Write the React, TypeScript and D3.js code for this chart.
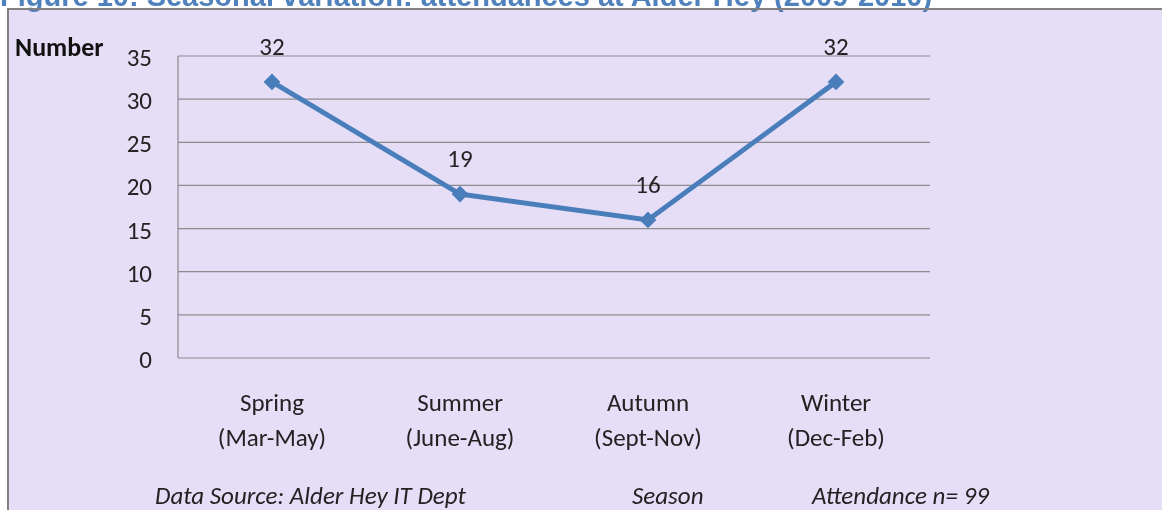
import { useEffect, useRef } from 'react'
import * as d3 from 'd3'

const seasons = ['Spring', 'Summer', 'Autumn', 'Winter']
const months = ['(Mar-May)', '(June-Aug)', '(Sept-Nov)', '(Dec-Feb)']
const attendances = [32, 19, 16, 32]
const yTicks = [0, 5, 10, 15, 20, 25, 30, 35]

const W = 1162
const H = 510
const font = 'Carlito, "Open Sans", "Noto Sans", sans-serif'

export default function App() {
  const svgRef = useRef<SVGSVGElement>(null)

  useEffect(() => {
    const svg = d3.select(svgRef.current)
    svg.selectAll('*').remove()

    const margin = { top: 56, left: 178, right: 232, bottom: 152 }
    const w = W - margin.left - margin.right
    const h = H - margin.top - margin.bottom

    // background + frame
    svg.append('rect').attr('x', 0).attr('y', 0).attr('width', W).attr('height', H).attr('fill', '#fff')
    svg.append('rect').attr('x', 8).attr('y', 9).attr('width', W).attr('height', H).attr('fill', '#e6ddf7')

    // title (cut off by the page top)
    svg.append('text')
      .attr('x', 0)
      .attr('y', 6)
      .attr('font-family', 'Arial, "Liberation Sans", sans-serif')
      .attr('font-weight', 'bold')
      .attr('font-size', 29)
      .attr('fill', '#4f81bd')
      .text('Figure 10: Seasonal variation: attendances at Alder Hey (2009-2010)')

    svg.append('line').attr('x1', 7).attr('x2', W).attr('y1', 9).attr('y2', 9).attr('stroke', '#808080').attr('stroke-width', 2)
    svg.append('line').attr('x1', 8).attr('x2', 8).attr('y1', 9).attr('y2', H).attr('stroke', '#808080').attr('stroke-width', 2)

    const g = svg.append('g').attr('transform', `translate(${margin.left},${margin.top})`)

    const x = d3.scaleBand().domain(seasons).range([0, w])
    const y = d3.scaleLinear().domain([0, 35]).range([h, 0])

    // gridlines
    g.selectAll('.grid')
      .data(yTicks)
      .join('line')
      .attr('x1', 0)
      .attr('x2', w)
      .attr('y1', (d) => y(d))
      .attr('y2', (d) => y(d))
      .attr('stroke', '#8c8c8c')
      .attr('stroke-width', 1.2)
    g.append('line').attr('x1', 0).attr('x2', 0).attr('y1', 0).attr('y2', h).attr('stroke', '#8c8c8c').attr('stroke-width', 1.2)

    // y tick labels
    g.selectAll('.ytick')
      .data(yTicks)
      .join('text')
      .attr('x', -26)
      .attr('y', (d) => y(d) + 10)
      .attr('text-anchor', 'end')
      .attr('font-family', font)
      .attr('font-size', 25)
      .attr('fill', '#222')
      .text((d) => d)

    svg.append('text')
      .attr('x', 15)
      .attr('y', 56)
      .attr('font-family', font)
      .attr('font-weight', 'bold')
      .attr('font-size', 26)
      .attr('fill', '#111')
      .text('Number')

    // category labels
    const cx = (d: string) => (x(d) ?? 0) + x.bandwidth() / 2
    g.selectAll('.cat1')
      .data(seasons)
      .join('text')
      .attr('x', cx)
      .attr('y', h + 53)
      .attr('text-anchor', 'middle')
      .attr('font-family', font)
      .attr('font-size', 25)
      .attr('fill', '#222')
      .text((d) => d)
    g.selectAll('.cat2')
      .data(seasons)
      .join('text')
      .attr('x', cx)
      .attr('y', h + 88)
      .attr('text-anchor', 'middle')
      .attr('font-family', font)
      .attr('font-size', 25)
      .attr('fill', '#222')
      .text((d, i) => months[i])

    // line + markers
    const pts = seasons.map((s, i) => [cx(s), y(attendances[i])] as [number, number])
    g.append('path')
      .attr('d', d3.line()(pts))
      .attr('fill', 'none')
      .attr('stroke', '#4a7ebb')
      .attr('stroke-width', 5)
    g.selectAll('.pt')
      .data(pts)
      .join('path')
      .attr('d', d3.symbol(d3.symbolDiamond2, 180)())
      .attr('transform', (d) => `translate(${d[0]},${d[1]})`)
      .attr('fill', '#4a7ebb')

    g.selectAll('.lbl')
      .data(pts)
      .join('text')
      .attr('x', (d) => d[0])
      .attr('y', (d) => d[1] - 27)
      .attr('text-anchor', 'middle')
      .attr('font-family', font)
      .attr('font-size', 25)
      .attr('fill', '#222')
      .text((d, i) => attendances[i])

    // footer
    const foot = [
      { t: 'Data Source: Alder Hey IT Dept', x: 155 },
      { t: 'Season', x: 632 },
      { t: 'Attendance n= 99', x: 812 },
    ]
    svg.selectAll('.foot')
      .data(foot)
      .join('text')
      .attr('x', (d) => d.x)
      .attr('y', 504)
      .attr('font-family', font)
      .attr('font-style', 'italic')
      .attr('font-size', 25)
      .attr('fill', '#222')
      .text((d) => d.t)
  }, [])

  return (
    <div style={{ position: 'fixed', left: 0, top: 0 }}>
      <svg ref={svgRef} width={W} height={H} style={{ display: 'block' }} />
    </div>
  )
}
